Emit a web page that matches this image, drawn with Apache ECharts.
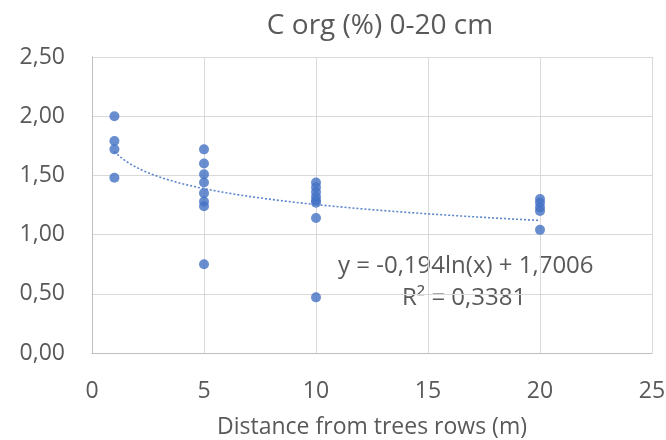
<!DOCTYPE html>
<html>
<head>
<meta charset="utf-8">
<script src="https://cdn.jsdelivr.net/npm/echarts@6/dist/echarts.min.js"></script>
<style>
  html, body { margin: 0; padding: 0; background: #fff; }
  #chart { width: 666px; height: 440px; }
</style>
</head>
<body>
<div id="chart"></div>
<script>
// Organic carbon (%) in the 0-20 cm layer, by distance from the tree rows
const distances = [1, 5, 10, 20];
const corgAt1 = [2.00, 1.79, 1.72, 1.48];
const corgAt5 = [1.72, 1.60, 1.51, 1.44, 1.35, 1.28, 1.24, 0.75];
const corgAt10 = [1.44, 1.40, 1.36, 1.32, 1.29, 1.27, 1.14, 0.47];
const corgAt20 = [1.30, 1.27, 1.23, 1.20, 1.04];
const xTicks = [0, 5, 10, 15, 20, 25];
const yTicks = [0, 0.5, 1, 1.5, 2, 2.5];

// Logarithmic trend: y = a ln(x) + b
const trendA = -0.194;
const trendB = 1.7006;
const trendR2 = 0.3381;

const groups = [corgAt1, corgAt5, corgAt10, corgAt20];
const points = [];
groups.forEach((vals, i) => vals.forEach(v => points.push([distances[i], v])));

const trend = [];
for (let x = 1; x <= 20.0001; x += 0.25) {
  trend.push([x, trendA * Math.log(x) + trendB]);
}

const fmt = (v, d) => v.toFixed(d).replace('.', ',');
const eqText = 'y = ' + fmt(trendA, 3) + 'ln(x) + ' + fmt(trendB, 4);
const r2Text = 'R\u00B2 = ' + fmt(trendR2, 4);

const FONT = 'Open Sans';
const TXT = '#595959';

const chart = echarts.init(document.getElementById('chart'), null, { renderer: 'canvas' });
chart.setOption({
  animation: false,
  backgroundColor: '#ffffff',
  textStyle: { fontFamily: FONT, color: TXT },
  title: {
    text: 'C org (%) 0-20 cm',
    left: 375, top: 7, textAlign: 'center',
    textStyle: { fontFamily: FONT, fontSize: 28, fontWeight: 'normal', color: TXT }
  },
  grid: {
    left: 92, right: 14, top: 57, bottom: 87,
    containLabel: false, outerBoundsMode: 'none'
  },
  xAxis: {
    type: 'value', min: xTicks[0], max: xTicks[xTicks.length - 1], interval: 5,
    name: 'Distance from trees rows (m)', nameLocation: 'middle', nameGap: 63,
    nameTextStyle: { fontFamily: FONT, fontSize: 23, color: TXT },
    axisLine: { show: true, lineStyle: { color: '#bfbfbf', width: 1 } },
    axisTick: { show: false },
    axisLabel: { fontFamily: FONT, fontSize: 23, color: TXT, margin: 27 },
    splitLine: { show: true, lineStyle: { color: '#d9d9d9', width: 1 } }
  },
  yAxis: {
    type: 'value', min: yTicks[0], max: yTicks[yTicks.length - 1], interval: 0.5,
    axisLine: { show: true, lineStyle: { color: '#bfbfbf', width: 1 } },
    axisTick: { show: false },
    axisLabel: {
      fontFamily: FONT, fontSize: 23, color: TXT, margin: 27,
      formatter: v => fmt(v, 2)
    },
    splitLine: { show: true, lineStyle: { color: '#d9d9d9', width: 1 } }
  },
  series: [
    {
      type: 'line', data: trend, showSymbol: false, symbol: 'none', smooth: false,
      lineStyle: { color: '#5b85cc', width: 1.6, type: [2, 2] },
      z: 2
    },
    {
      type: 'scatter', data: points, symbol: 'circle', symbolSize: 10,
      itemStyle: { color: '#4472c4' },
      z: 3
    }
  ],
  graphic: [
    {
      type: 'text', left: 338, top: 254,
      style: { text: eqText, fontFamily: FONT, fontSize: 24, fill: TXT }
    },
    {
      type: 'text', left: 402, top: 286,
      style: { text: r2Text, fontFamily: FONT, fontSize: 24, fill: TXT }
    }
  ]
});
</script>
</body>
</html>
